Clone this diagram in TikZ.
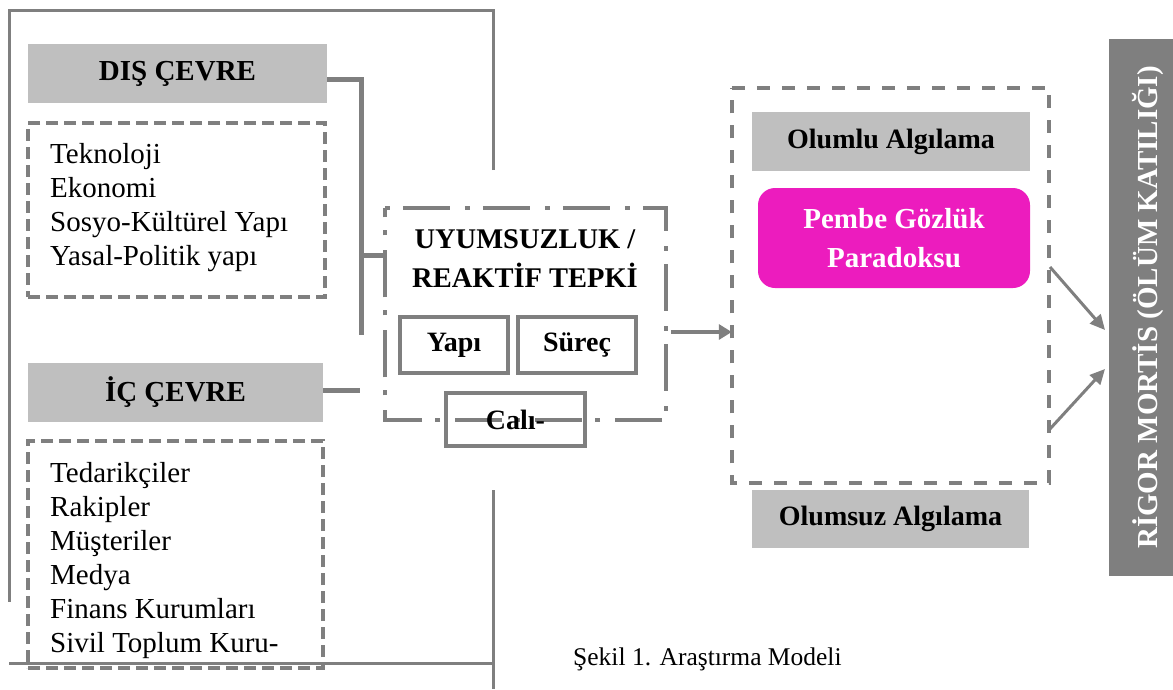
\documentclass[tikz,border=0pt]{standalone}
\usepackage{fontspec}
\setmainfont{Liberation Serif}
\usetikzlibrary{arrows.meta}
\definecolor{linegray}{HTML}{7F7F7F}
\definecolor{fillgray}{HTML}{BFBFBF}
\definecolor{boxmagenta}{HTML}{EC1CBE}
\begin{document}
\begin{tikzpicture}[x=1pt,y=-1pt,
  graybox/.style={fill=fillgray, draw=none, inner sep=0pt, font=\fontsize{29pt}{34pt}\selectfont\bfseries},
  algbox/.style={fill=fillgray, draw=none, inner sep=0pt, font=\fontsize{28pt}{34pt}\selectfont\bfseries},
  dashbox/.style={draw=linegray, line width=4pt, dash pattern=on 12pt off 6pt, inner sep=0pt},
  dashboxb/.style={draw=linegray, line width=3.5pt, dash pattern=on 13pt off 12pt, inner sep=0pt},
  dotline/.style={draw=linegray, line width=4pt, dash pattern=on 5pt off 13pt on 47pt off 15pt},
  smallbox/.style={draw=linegray, line width=4pt, inner sep=0pt, font=\fontsize{28pt}{34pt}\selectfont\bfseries},
  listtext/.style={align=left, inner sep=0pt, font=\fontsize{29pt}{34pt}\selectfont},
  frame/.style={draw=linegray, line width=3pt},
  conn/.style={draw=linegray, line width=5pt},
  arr/.style={draw=linegray, line width=4.5pt, -{Triangle[length=13pt,width=15pt]}},
  arrs/.style={draw=linegray, line width=3pt, -{Triangle[length=15pt,width=14pt]}}
]
\useasboundingbox (0,0) rectangle (1173,689);

% outer frame
\coordinate (f1) at (9,10);
\coordinate (f2) at (493,10);
\coordinate (f3) at (493,170);
\coordinate (f4) at (9,602);
\coordinate (g1) at (9,663);
\coordinate (g2) at (493,663);
\coordinate (g3) at (493,490);
\coordinate (g4) at (493,689);
\draw[frame] (f3) -- (f2) -- (f1) -- (f4);
\draw[frame] (g1) -- (g2);
\draw[frame] (g3) -- (g4);

% left column
\node[graybox, minimum width=299pt, minimum height=59pt] (dis) at (177.5,73.5) {DIŞ ÇEVRE};
\node[dashbox, minimum width=297pt, minimum height=174pt] (ext) at (176.5,210) {};
\node[listtext, anchor=north west] (extlist) at (50,143) {Teknoloji\\Ekonomi\\Sosyo-Kültürel Yapı\\Yasal-Politik yapı};

\node[graybox, minimum width=295pt, minimum height=59pt] (ic) at (175.5,392.5) {İÇ ÇEVRE};
\node[dashbox, minimum width=295pt, minimum height=227pt] (int) at (175.5,554.5) {};
\node[listtext, anchor=north west] (intlist) at (50,462) {Tedarikçiler\\Rakipler\\Müşteriler\\Medya\\Finans Kurumları\\Sivil Toplum Kuru-};

% middle
\node[inner sep=0pt, minimum width=281pt, minimum height=212pt] (uyum) at (525.5,314) {};
\draw[dotline] (uyum.north west) -- (uyum.north east) -- (uyum.south east) -- (uyum.south west) -- cycle;
\node[anchor=north, align=center, inner sep=0pt, font=\fontsize{28.5pt}{39pt}\selectfont\bfseries] (title) at (525,229) {UYUMSUZLUK /\\REAKTİF TEPKİ};
\node[smallbox, minimum width=108pt, minimum height=56pt] (yapi) at (454,345) {Yapı};
\node[smallbox, minimum width=118pt, minimum height=56pt] (surec) at (577,345) {Süreç};
\node[smallbox, minimum width=139pt, minimum height=53pt] (cali) at (515.5,419.5) {Calı-};

% connectors left
\coordinate (d1) at (361,79);
\coordinate (d2) at (361,335);
\coordinate (d3) at (361,255);
\draw[conn] (dis.east |- d1) -- (d1) -- (d2);
\draw[conn] (d3) -- (uyum.west |- d3);
\coordinate (i1) at (360,390);
\draw[conn] (ic.east |- i1) -- (i1);

% right
\node[inner sep=0pt, minimum width=317pt, minimum height=395pt] (algi) at (890.5,285.5) {};
\draw[dashboxb] (algi.north west) -- (algi.north east) -- (algi.south east) -- (algi.south west) -- cycle;
\node[algbox, minimum width=278pt, minimum height=59pt] (olumlu) at (891,141.5) {Olumlu Algılama};
\node[fill=boxmagenta, rounded corners=17pt, inner sep=0pt, minimum width=272pt, minimum height=100pt, align=center, text=white, font=\fontsize{29pt}{39pt}\selectfont\bfseries] (pembe) at (894,238) {Pembe Gözlük\\Paradoksu};
\node[algbox, minimum width=277pt, minimum height=58pt] (olumsuz) at (890.5,519) {Olumsuz Algılama};

\node[fill=linegray, inner sep=0pt, minimum width=64pt, minimum height=537pt] (rigor) at (1141,307.5) {};
\node[rotate=90, anchor=base, inner sep=0pt, text=white, font=\fontsize{29pt}{34pt}\selectfont\bfseries] (rigortext) at (1157,307.5) {RİGOR MORTİS (ÖLÜM KATILIĞI)};

% arrows
\coordinate (a1) at (671,332);
\draw[arr] (a1) -- (algi.west |- a1);
\coordinate (r1s) at (1050,267);
\coordinate (r1e) at (1105,330);
\coordinate (r2s) at (1049,430);
\coordinate (r2e) at (1105,369);
\draw[arrs] (r1s) -- (r1e);
\draw[arrs] (r2s) -- (r2e);

% caption
\node[anchor=base west, inner sep=0pt, font=\fontsize{25.5pt}{30pt}\selectfont] (caption) at (573,665) {Şekil 1. Araştırma Modeli};
\end{tikzpicture}
\end{document}
